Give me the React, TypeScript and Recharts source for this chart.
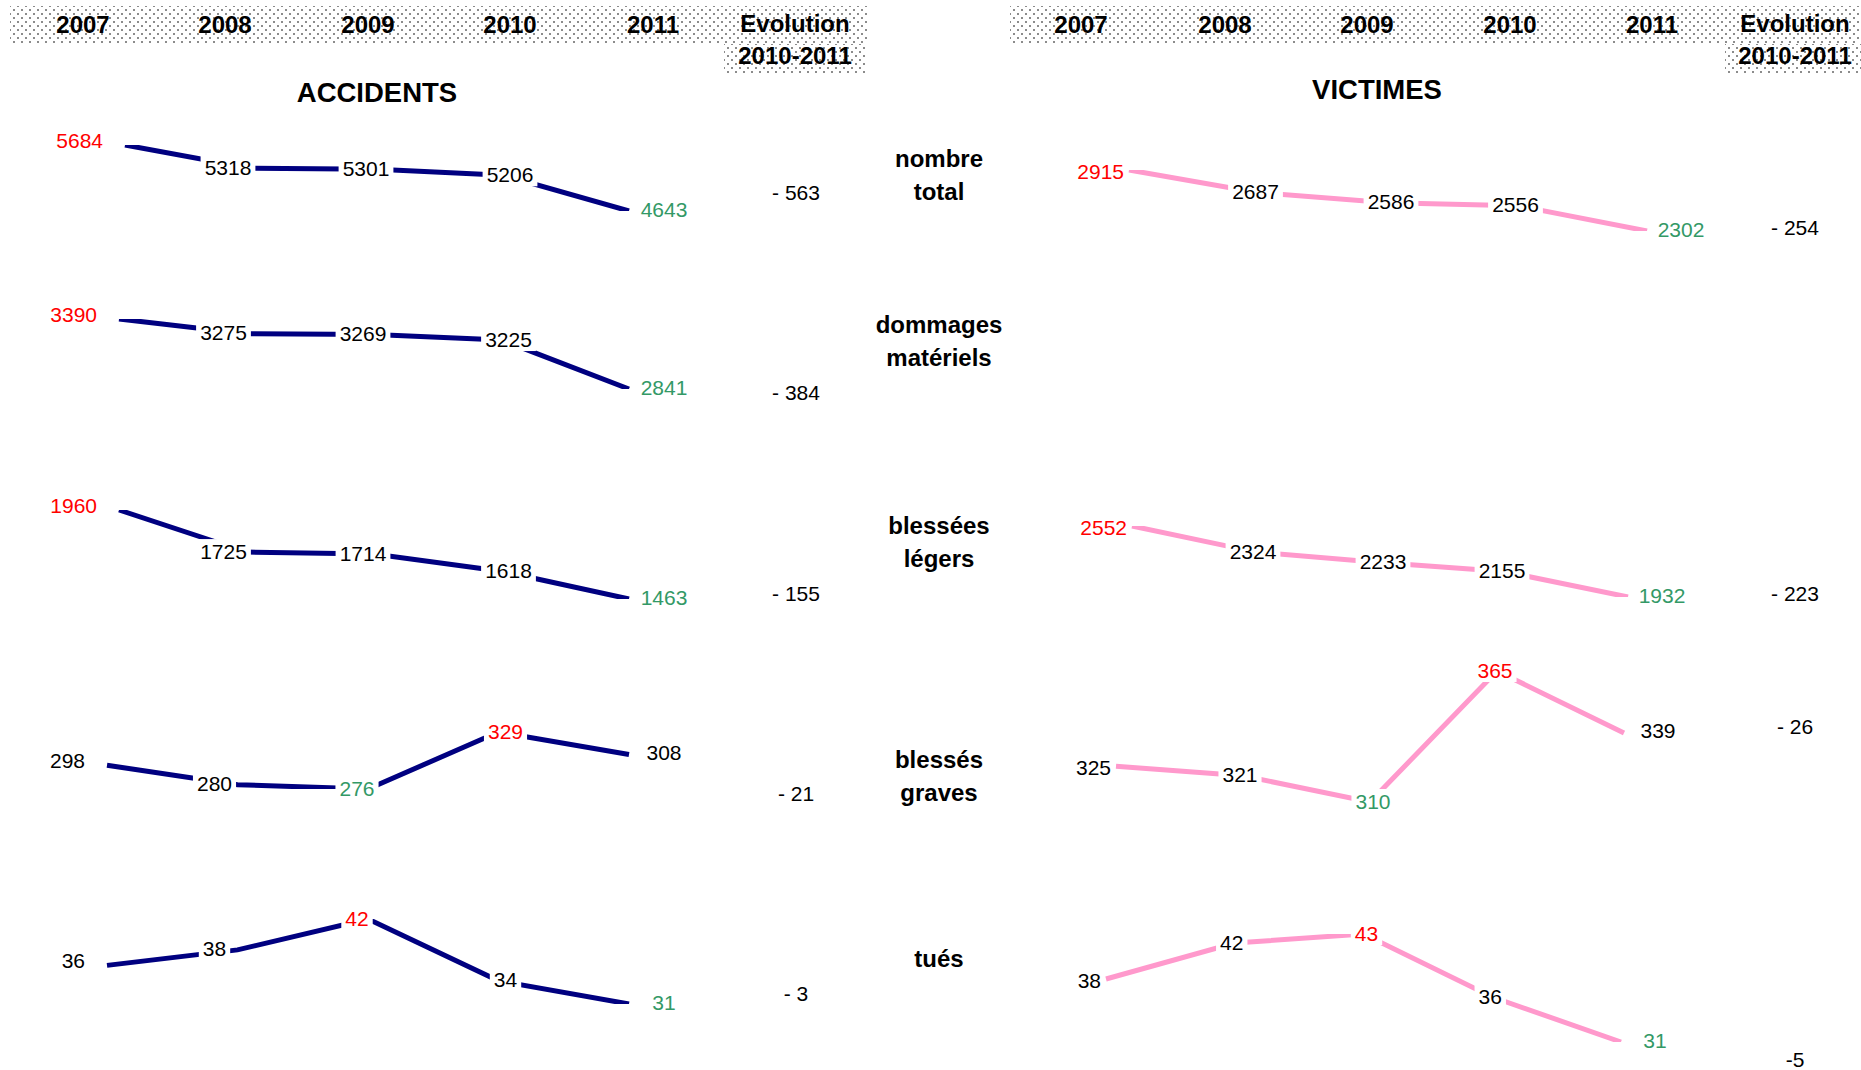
import { LabelList, Line, LineChart, XAxis, YAxis } from "recharts";

const years = [2007, 2008, 2009, 2010, 2011];
const headerYears = ["2007", "2008", "2009", "2010", "2011"];

// accidents
const accTotal = [5684, 5318, 5301, 5206, 4643];
const accMateriels = [3390, 3275, 3269, 3225, 2841];
const accLegers = [1960, 1725, 1714, 1618, 1463];
const accGraves = [298, 280, 276, 329, 308];
const accTues = [36, 38, 42, 34, 31];
const accEvolution = ["- 563", "- 384", "- 155", "- 21", "- 3"];

// victimes (pas de ligne pour les dommages matériels)
const vicTotal = [2915, 2687, 2586, 2556, 2302];
const vicLegers = [2552, 2324, 2233, 2155, 1932];
const vicGraves = [325, 321, 310, 365, 339];
const vicTues = [38, 42, 43, 36, 31];
const vicEvolution = ["- 254", "- 223", "- 26", "-5"];

const rowLabels = [
  ["nombre", "total"],
  ["dommages", "matériels"],
  ["blessées", "légers"],
  ["blessés", "graves"],
  ["tués"],
];

const FONT = '"Liberation Sans", Arial, Helvetica, sans-serif';
const NAVY = "#000080";
const PINK = "#ff99cc";
const RED = "#ff0000";
const GREEN = "#339966";
const DOTS =
  "radial-gradient(circle, #8c8c8c 0.85px, transparent 1.15px), radial-gradient(circle, #8c8c8c 0.85px, transparent 1.15px)";

type Box = { x0: number; x1: number; yTop: number; yBot: number };

// pixel box of each small chart: first/last year, max/min value
const accBoxes: Box[] = [
  { x0: 125, x1: 629, yTop: 145, yBot: 211 },
  { x0: 119, x1: 629, yTop: 319, yBot: 389 },
  { x0: 119, x1: 629, yTop: 510, yBot: 599 },
  { x0: 107, x1: 629, yTop: 732, yBot: 789 },
  { x0: 107, x1: 629, yTop: 919, yBot: 1004 },
];
const vicBoxes: Box[] = [
  { x0: 1129, x1: 1647, yTop: 170, yBot: 231 },
  { x0: 1132, x1: 1628, yTop: 526, yBot: 597 },
  { x0: 1116, x1: 1624, yTop: 671, yBot: 802 },
  { x0: 1106, x1: 1621, yTop: 934, yBot: 1042 },
];

// label placement per panel
type LabelStyle = { firstGap: number; firstDy: number; lastShift: number; midShift: number[] };
const accLabelStyle: LabelStyle = { firstGap: 22, firstDy: -5, lastShift: 35, midShift: [-23, -11, 7] };
const vicLabelStyle: LabelStyle = { firstGap: 5, firstDy: 1, lastShift: 34, midShift: [-3, 3, -2] };

const M = { top: 30, right: 80, bottom: 30, left: 80 };

function RowChart({
  values,
  box,
  color,
  labelStyle,
}: {
  values: number[];
  box: Box;
  color: string;
  labelStyle: LabelStyle;
}) {
  const data = years.map((year, i) => ({ year, value: values[i] }));
  const min = Math.min(...values);
  const max = Math.max(...values);
  const last = values.length - 1;

  const renderLabel = (props: any) => {
    const x = props.viewBox?.x ?? props.x;
    const y = props.viewBox?.y ?? props.y;
    const value = props.value;
    const index = props.index;
    const fill = value === max ? RED : value === min ? GREEN : "#000";
    const text = String(value);
    const common = { fill, fontSize: 21, fontFamily: FONT, dominantBaseline: "central" as const };
    if (index === 0) {
      return (
        <text x={x - labelStyle.firstGap} y={y + labelStyle.firstDy} textAnchor="end" {...common}>
          {text}
        </text>
      );
    }
    if (index === last) {
      return (
        <text x={x + labelStyle.lastShift} y={y - 2} textAnchor="middle" {...common}>
          {text}
        </text>
      );
    }
    const cx = x + labelStyle.midShift[index - 1];
    const w = text.length * 11.7 + 8;
    return (
      <g>
        <rect x={cx - w / 2} y={y - 13} width={w} height={24} fill="#fff" />
        <text x={cx} y={y - 1} textAnchor="middle" {...common}>
          {text}
        </text>
      </g>
    );
  };

  return (
    <div style={{ position: "absolute", left: box.x0 - M.left, top: box.yTop - M.top }}>
      <LineChart
        width={box.x1 - box.x0 + M.left + M.right}
        height={box.yBot - box.yTop + M.top + M.bottom}
        data={data}
        margin={M}
      >
        <XAxis dataKey="year" type="number" domain={[2007, 2011]} hide />
        <YAxis type="number" domain={[min, max]} allowDataOverflow hide />
        <Line
          dataKey="value"
          stroke={color}
          strokeWidth={5}
          dot={false}
          activeDot={false}
          isAnimationActive={false}
        >
          <LabelList dataKey="value" content={renderLabel} />
        </Line>
      </LineChart>
    </div>
  );
}

function Txt({
  x,
  y,
  children,
  size = 21,
  bold = false,
  color = "#000",
}: {
  x: number;
  y: number;
  children: React.ReactNode;
  size?: number;
  bold?: boolean;
  color?: string;
}) {
  return (
    <div
      style={{
        position: "absolute",
        left: x,
        top: y,
        transform: "translate(-50%, -50%)",
        whiteSpace: "nowrap",
        lineHeight: 1,
        fontSize: size,
        fontWeight: bold ? 700 : 400,
        color,
      }}
    >
      {children}
    </div>
  );
}

function Dotted({ x, y, w, h }: { x: number; y: number; w: number; h: number }) {
  return (
    <div
      style={{
        position: "absolute",
        left: x,
        top: y,
        width: w,
        height: h,
        backgroundImage: DOTS,
        backgroundSize: "8px 8px",
        backgroundPosition: "0 0, 4px 4px",
      }}
    />
  );
}

const accYearX = [83, 225, 368, 510, 653];
const vicYearX = [1081, 1225, 1367, 1510, 1652];
const labelLineY = [
  [159, 192],
  [325, 358],
  [526, 559],
  [760, 793],
  [959],
];
const accEvoY = [192, 392, 593, 793, 993];
const vicEvoY = [227, 593, 726, 1059];

export default function App() {
  return (
    <div
      style={{
        position: "absolute",
        left: 0,
        top: 0,
        width: 1861,
        height: 1070,
        background: "#fff",
        fontFamily: FONT,
        overflow: "hidden",
      }}
    >
      {/* bandeaux d'en-tête */}
      <Dotted x={10} y={6} w={857} h={38} />
      <Dotted x={724} y={44} w={143} h={31} />
      <Dotted x={1010} y={6} w={851} h={38} />
      <Dotted x={1725} y={44} w={136} h={31} />

      {headerYears.map((yr, i) => (
        <Txt key={"a" + yr} x={accYearX[i]} y={25} size={24} bold>
          {yr}
        </Txt>
      ))}
      {headerYears.map((yr, i) => (
        <Txt key={"v" + yr} x={vicYearX[i]} y={25} size={24} bold>
          {yr}
        </Txt>
      ))}
      <Txt x={795} y={24} size={24} bold>Evolution</Txt>
      <Txt x={795} y={56} size={24} bold>2010-2011</Txt>
      <Txt x={1795} y={24} size={24} bold>Evolution</Txt>
      <Txt x={1795} y={56} size={24} bold>2010-2011</Txt>

      <Txt x={377} y={93} size={27.5} bold>ACCIDENTS</Txt>
      <Txt x={1377} y={90} size={27.5} bold>VICTIMES</Txt>

      {rowLabels.map((lines, r) =>
        lines.map((t, k) => (
          <Txt key={t} x={939} y={labelLineY[r][k]} size={24} bold>
            {t}
          </Txt>
        ))
      )}

      {[accTotal, accMateriels, accLegers, accGraves, accTues].map((values, r) => (
        <RowChart key={"acc" + r} values={values} box={accBoxes[r]} color={NAVY} labelStyle={accLabelStyle} />
      ))}
      {[vicTotal, vicLegers, vicGraves, vicTues].map((values, r) => (
        <RowChart key={"vic" + r} values={values} box={vicBoxes[r]} color={PINK} labelStyle={vicLabelStyle} />
      ))}

      {accEvolution.map((t, r) => (
        <Txt key={"ae" + r} x={796} y={accEvoY[r]}>
          {t}
        </Txt>
      ))}
      {vicEvolution.map((t, r) => (
        <Txt key={"ve" + r} x={1795} y={vicEvoY[r]}>
          {t}
        </Txt>
      ))}
    </div>
  );
}
